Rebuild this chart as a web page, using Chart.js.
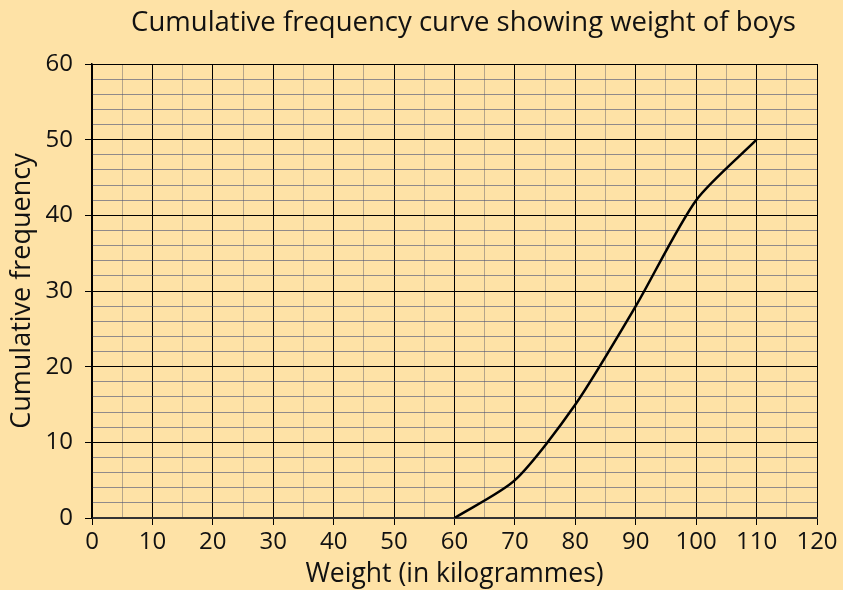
<!DOCTYPE html>
<html lang="en">
<head>
  <meta charset="UTF-8" />
  <title>Cumulative frequency curve</title>
  <script src="https://cdn.jsdelivr.net/npm/chart.js@4/dist/chart.umd.min.js"></script>
  <style>
    body { margin: 0; background: #fee2a6; }
    canvas { display: block; }
  </style>
</head>
<body>
  <canvas id="grafico" width="843" height="590"></canvas>
  <script>
    // weight (kg) and cumulative frequency
    const weights = [60, 70, 80, 90, 100, 110];
    const cumFreq = [0, 5, 15, 28, 42, 50];

    const xTicks = [0, 10, 20, 30, 40, 50, 60, 70, 80, 90, 100, 110, 120];
    const yTicks = [0, 10, 20, 30, 40, 50, 60];
    const xMinorStep = 5;
    const yMinorStep = 2;

    const fontName = "'Open Sans', Lato, sans-serif";

    // major + minor grid positions between first and last tick
    function gridTicks(major, step) {
      const out = [];
      for (let v = major[0]; v <= major[major.length - 1]; v += step) out.push({ value: v });
      return out;
    }

    // title sits a bit right of the canvas centre in the original
    const shiftTitle = {
      id: "shiftTitle",
      afterLayout(chart) {
        if (chart.titleBlock) chart.titleBlock.left = 110;
      }
    };

    const ctx = document.getElementById("grafico").getContext("2d");

    new Chart(ctx, {
      type: "line",
      data: {
        datasets: [{
          label: "Cumulative frequency",
          data: weights.map((w, i) => ({ x: w, y: cumFreq[i] })),
          borderColor: "#000",
          borderWidth: 2.5,
          pointRadius: 0,
          tension: 0.25,
          fill: false
        }]
      },
      plugins: [shiftTitle],
      options: {
        responsive: false,
        animation: false,
        layout: { padding: { left: 0, right: 26, top: 0, bottom: 0 } },
        plugins: {
          legend: { display: false },
          tooltip: { enabled: false },
          title: {
            display: true,
            text: "Cumulative frequency curve showing weight of boys",
            color: "#111",
            font: { family: fontName, size: 27.5, weight: "normal", lineHeight: 1.2 },
            padding: { top: 7, bottom: 24 }
          }
        },
        scales: {
          x: {
            type: "linear",
            min: xTicks[0],
            max: xTicks[xTicks.length - 1],
            afterBuildTicks: s => { s.ticks = gridTicks(xTicks, xMinorStep); },
            afterFit: s => { s.height = 72; },
            ticks: {
              padding: 3,
              color: "#111",
              font: { family: fontName, size: 24 },
              maxRotation: 0,
              autoSkip: false,
              callback: v => xTicks.includes(v) ? v : ""
            },
            grid: {
              tickLength: 7,
              lineWidth: 1,
              color: c => c.tick && c.tick.value % 10 === 0 ? "#000" : "rgba(120,115,115,0.55)",
              tickColor: c => c.tick && c.tick.value % 10 === 0 ? "#000" : "rgba(0,0,0,0)"
            },
            border: { color: "#333", width: 2 },
            title: {
              display: true,
              text: "Weight (in kilogrammes)",
              color: "#111",
              font: { family: fontName, size: 26.5 },
              padding: { top: 0, bottom: 0 }
            }
          },
          y: {
            min: yTicks[0],
            max: yTicks[yTicks.length - 1],
            afterBuildTicks: s => { s.ticks = gridTicks(yTicks, yMinorStep); },
            afterFit: s => { s.width = 92; },
            ticks: {
              padding: 12,
              color: "#111",
              font: { family: fontName, size: 24 },
              autoSkip: false,
              callback: v => yTicks.includes(v) ? v : ""
            },
            grid: {
              tickLength: 7,
              lineWidth: 1,
              color: c => c.tick && c.tick.value % 10 === 0 ? "#000" : "rgba(70,80,120,0.6)",
              tickColor: c => c.tick && c.tick.value % 10 === 0 ? "#000" : "rgba(0,0,0,0)"
            },
            border: { color: "#000", width: 1.5 },
            title: {
              display: true,
              text: "Cumulative frequency",
              color: "#111",
              font: { family: fontName, size: 27 },
              padding: { top: 6, bottom: 0 }
            }
          }
        }
      }
    });
  </script>
</body>
</html>
